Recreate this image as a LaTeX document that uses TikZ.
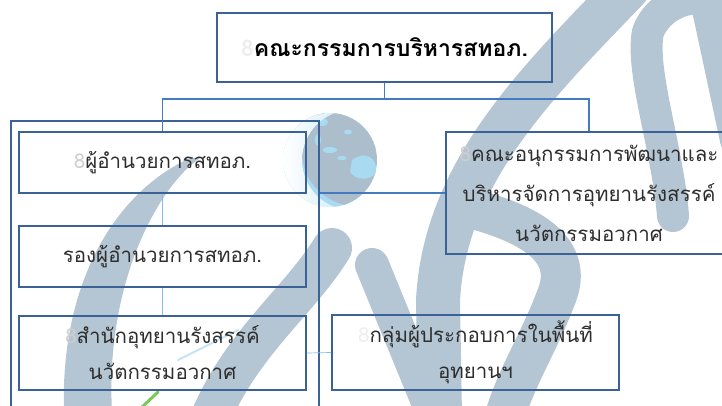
\documentclass[tikz,border=0pt]{standalone}
\usepackage{fontspec}
\newfontfamily\thaifont[Script=Thai]{Loma}
\definecolor{boxblue}{RGB}{58,98,150}
\definecolor{treeblue}{RGB}{68,122,192}
\definecolor{thinblue}{RGB}{130,192,236}
\definecolor{wmark}{RGB}{180,197,211}
\definecolor{globegrey}{RGB}{172,189,204}
\definecolor{oceanblue}{RGB}{168,218,242}
\definecolor{txt}{RGB}{45,45,45}
\definecolor{ghost}{RGB}{206,206,206}
\definecolor{ghostlight}{RGB}{238,238,238}
\definecolor{leafgreen}{RGB}{120,200,90}

\begin{document}
\begin{tikzpicture}[x=1pt,y=-1pt,
  orgbox/.style={draw=boxblue,line width=1.8pt,rectangle,align=center,inner sep=0pt,
    text=txt,font=\thaifont\fontsize{20.5}{36}\selectfont},
  tree/.style={draw=treeblue,line width=1.8pt},
  thinlink/.style={draw=thinblue,line width=0.7pt},
  wm/.style={draw=wmark,line cap=round,line join=round},
]
\useasboundingbox (0,0) rectangle (722,405);

% ---- background logo strokes ----
% G: outer bow
\fill[wmark] (200,158) .. controls (160,185) and (105,280) .. (112,412)
  -- (64,412) .. controls (60,290) and (110,195) .. (190,158) -- cycle;
% G: inner hook
\draw[wm,line width=40pt] (332,248) .. controls (300,300) and (245,340) .. (212,414);
% i: stem
\draw[wm,line width=34pt] (372,265) -- (433,414);
% S: long upper stroke
\draw[wm,line width=44pt] (628,-12) .. controls (540,80) and (445,170) .. (438,300) -- (440,416);
% S: lower sweep
\draw[wm,line width=40pt] (458,205) .. controls (520,220) and (580,245) .. (555,300)
  .. controls (540,340) and (515,380) .. (505,416);
% arch on the right
\draw[wm,line width=32pt] (673,216) .. controls (668,150) and (640,70) .. (648,32)
  .. controls (658,5) and (690,-6) .. (706,0) -- (736,140);
% small accents
\draw[leafgreen,line width=3pt,line cap=round] (141,408) -- (158,392);
\draw[thinblue!45,line width=2pt,line cap=round] (178,360) -- (238,330);

% globe: ocean, land masses, lit limb
\begin{scope}
  \clip (330,160) circle (47);
  \fill[oceanblue] (330,160) circle (47);
  \fill[globegrey] (298,112) .. controls (330,105) and (375,120) .. (380,150)
     .. controls (382,180) and (372,200) .. (345,205)
     .. controls (325,200) and (310,185) .. (305,170)
     .. controls (300,150) and (295,130) .. (298,112) -- cycle;
  \fill[oceanblue] (352,160) .. controls (365,150) and (378,158) .. (376,172)
     .. controls (370,182) and (355,180) .. (350,172) -- cycle;
  \fill[oceanblue] (330,150) ellipse (7 and 3);
  \fill[oceanblue] (342,158) ellipse (5 and 2);
  \fill[oceanblue] (318,140) ellipse (3 and 6);
  \fill[oceanblue] (322,122) ellipse (6 and 4);
  \fill[oceanblue] (348,132) ellipse (4 and 2.5);
  \shade[left color=white,right color=oceanblue,even odd rule]
     (330,160) circle (47) (352,160) circle (50);
\end{scope}

% ---- organisation chart ----
\node[orgbox,minimum width=308pt,minimum height=300pt] (frame) at (165,271) {};
\node[orgbox,minimum width=335pt,minimum height=69pt,text=black,
      font=\thaifont\bfseries\fontsize{23}{30}\selectfont] (top) at (384.5,47.5)
  {{\color{ghostlight}8}คณะกรรมการบริหารสทอภ.};
\node[orgbox,minimum width=287pt,minimum height=61pt] (b1) at (162.5,162.5)
  {{\color{ghost}8}ผู้อำนวยการสทอภ.};
\node[orgbox,minimum width=287pt,minimum height=61pt] (b2) at (162.5,256.5)
  {รองผู้อำนวยการสทอภ.};
\node[orgbox,minimum width=287pt,minimum height=74pt] (b3) at (162.5,353)
  {{\color{ghost}8}สำนักอุทยานรังสรรค์\\นวัตกรรมอวกาศ};
\node[orgbox,minimum width=287pt,minimum height=75pt] (b4) at (475.5,352.5)
  {{\color{ghostlight}8}กลุ่มผู้ประกอบการในพื้นที่\\อุทยานฯ};
\node[orgbox,minimum width=286pt,minimum height=122pt,
      font=\thaifont\fontsize{20.5}{40}\selectfont] (rb) at (589,193)
  {{\color{ghost}8}คณะอนุกรรมการพัฒนาและ\\บริหารจัดการอุทยานรังสรรค์\\นวัตกรรมอวกาศ};

% connectors
\draw[tree] (top.south) -- ++(0,16) coordinate (jn);
\draw[tree] (b1.north) |- (jn) -| (rb.north);
\draw[tree] (frame.east |- rb.west) -- (rb.west);
\draw[thinlink] (b1.south) -- (b2.north);
\draw[thinlink] (b2.south) -- (b3.north);
\draw[thinlink] (b3.east) -- (b4.west);
\end{tikzpicture}
\end{document}
